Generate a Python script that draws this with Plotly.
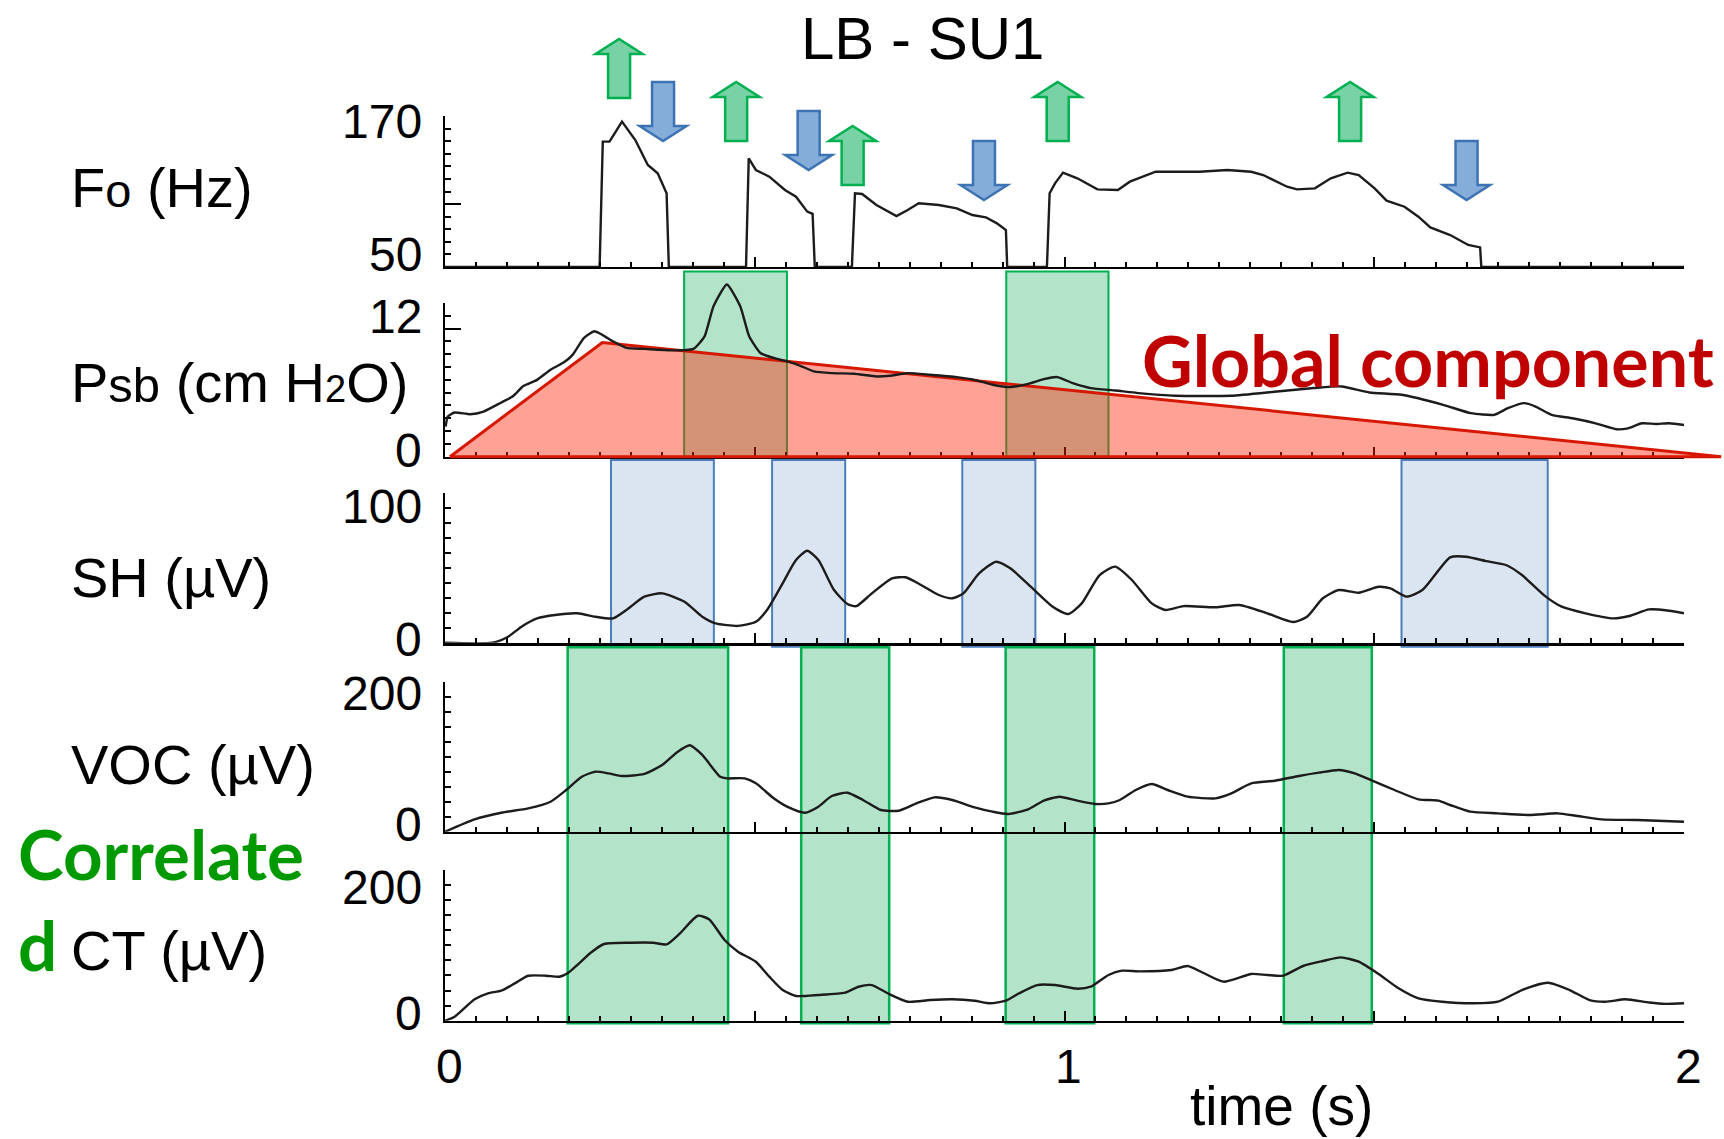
import plotly.graph_objects as go

# ---------------- data ----------------
f0_time = [0.0, 0.2496, 0.2547, 0.2655, 0.2857, 0.3072, 0.3274, 0.3433, 0.3577, 0.3613,
           0.4859, 0.4903, 0.5018, 0.5235, 0.5487, 0.5666, 0.5847, 0.5934, 0.5969,
           0.6568, 0.6618, 0.6733, 0.6964, 0.7288, 0.7469, 0.7648, 0.7972, 0.8261, 0.8513,
           0.873, 0.8909, 0.9054, 0.9075,
           0.9716, 0.976, 0.9847, 0.9976, 1.0207, 1.0531, 1.0862, 1.1055, 1.1472, 1.2179,
           1.2629, 1.3014, 1.3207, 1.3593, 1.3753, 1.4042, 1.4299, 1.457, 1.4749, 1.5006,
           1.5199, 1.5488, 1.5713, 1.5905, 1.6226, 1.6517, 1.6709, 1.6728, 2.0]
f0_hz = [50, 50, 149.6, 149.6, 165.5, 150.9, 131.1, 124.5, 108.6, 50,
         50, 136.4, 127.1, 121.8, 111.2, 105.9, 94.0, 92.2, 50,
         50, 108.6, 108.0, 99.3, 90.5, 95.3, 100.6, 99.3, 96.6, 91.3,
         89.5, 84.7, 79.4, 50,
         50, 108.6, 116.5, 125.0, 120.5, 111.7, 111.2, 117.8, 125.7, 125.7,
         127.1, 125.7, 123.1, 113.8, 111.7, 112.5, 120.5, 125.0, 123.1, 112.5,
         102.7, 97.9, 90.0, 81.5, 75.4, 67.5, 65.6, 50, 50]

psb_time = [0.001, 0.0046, 0.0154, 0.0406, 0.0623, 0.091, 0.109, 0.127, 0.1487, 0.1703,
            0.192, 0.2063, 0.2244, 0.241, 0.2533, 0.2712, 0.2928, 0.3217, 0.365, 0.401,
            0.419, 0.4334, 0.455, 0.4766, 0.491, 0.509, 0.5306, 0.5522, 0.5738, 0.5955,
            0.6244, 0.6604, 0.6964, 0.718, 0.7469, 0.7829, 0.8261, 0.8549, 0.8838, 0.9125,
            0.9414, 0.9666, 0.9882, 1.0134, 1.0423, 1.0822, 1.1195, 1.179, 1.2686, 1.343,
            1.4027, 1.4475, 1.4922, 1.5443, 1.6113, 1.656, 1.6933, 1.7158, 1.7417, 1.7604,
            1.7865, 1.82, 1.8573, 1.8909, 1.9095, 1.9319, 1.9542, 1.9766, 2.0]
psb_cmh2o = [2.82, 3.76, 4.14, 3.98, 4.23, 5.08, 5.64, 6.64, 7.2, 8.15,
             8.84, 9.56, 11.13, 11.75, 11.44, 10.81, 10.19, 10.1, 9.96, 10.1,
             11.28, 14.1, 16.14, 14.1, 11.28, 9.72, 9.25, 8.93, 8.52, 7.99,
             7.83, 7.77, 7.52, 7.58, 7.83, 7.68, 7.46, 7.2, 6.74, 6.52,
             6.83, 7.27, 7.46, 6.89, 6.43, 6.2, 5.96, 5.71, 5.71, 6.11,
             6.43, 6.58, 6.02, 5.8, 4.86, 4.08, 3.92, 4.55, 5.02, 4.7,
             3.92, 3.6, 3.13, 2.57, 2.66, 3.13, 3.07, 3.13, 2.97]

sh_time = [0.0, 0.0767, 0.1019, 0.1235, 0.1487, 0.1776, 0.2136, 0.2424, 0.2712, 0.2928,
           0.3217, 0.3505, 0.3866, 0.4153, 0.437, 0.473, 0.5018, 0.5198, 0.5451, 0.5666,
           0.5847, 0.6027, 0.628, 0.6496, 0.664, 0.6891, 0.7216, 0.7432, 0.7684, 0.7972,
           0.8189, 0.8368, 0.8621, 0.8895, 0.9125, 0.9485, 0.981, 1.0063, 1.0278, 1.0567,
           1.0819, 1.1087, 1.1408, 1.1633, 1.1923, 1.2436, 1.2822, 1.3272, 1.3689, 1.3914,
           1.4171, 1.4428, 1.4749, 1.507, 1.5262, 1.552, 1.5777, 1.6226, 1.6484, 1.6806,
           1.7127, 1.7384, 1.7769, 1.8026, 1.8412, 1.886, 1.9117, 1.9438, 1.976, 2.0]
sh_uv = [0, 0, 4, 10.7, 16.2, 18.5, 19.6, 17.3, 16.2, 21.8,
         30.7, 32.9, 27.3, 17.3, 12.9, 11.2, 14, 21.8, 39.6, 55.1,
         61.3, 55.1, 35.1, 25.8, 24.4, 32.9, 42.9, 43.6, 38.5, 31.8,
         29.6, 32.9, 46.2, 54, 49.6, 36.2, 24, 19.1, 26.2, 45.1,
         50.7, 41.8, 26.2, 21.8, 24.4, 23.6, 25.1, 19.6, 13.8, 17.3,
         29.6, 35.1, 33.3, 37.3, 36.2, 30.7, 35.1, 56.9, 57.3, 54.4,
         51.8, 45.1, 30.7, 24, 19.6, 16.2, 17.8, 22.2, 21.3, 19.6]

voc_time = [0.0, 0.0478, 0.091, 0.1343, 0.1703, 0.1956, 0.2208, 0.2424, 0.2641, 0.2857,
            0.3217, 0.3505, 0.3758, 0.3952, 0.4153, 0.4442, 0.455, 0.4838, 0.5018, 0.5306,
            0.5522, 0.5811, 0.6027, 0.6244, 0.6496, 0.6747, 0.7036, 0.7324, 0.7612, 0.79,
            0.8189, 0.8549, 0.8838, 0.909, 0.9414, 0.9666, 0.9918, 1.0207, 1.0494, 1.071,
            1.0894, 1.1151, 1.1408, 1.1666, 1.1987, 1.2436, 1.2693, 1.3014, 1.34, 1.3785,
            1.4106, 1.4428, 1.4685, 1.5006, 1.5327, 1.5713, 1.6034, 1.6226, 1.6547, 1.6998,
            1.7511, 1.7962, 1.8283, 1.8668, 1.9246, 2.0]
voc_uv = [0, 16.5, 25.3, 31.1, 40, 55.6, 73.3, 80, 77.8, 74.3,
          77, 88.9, 106.7, 115.2, 102.3, 73.3, 71.1, 71.1, 64.5, 44.5,
          33.4, 25.3, 33.4, 47.6, 52, 42.3, 28.9, 28, 37.8, 45.8,
          42.3, 32.5, 26.7, 23.6, 29.8, 41.4, 46.7, 41.4, 37, 37.8,
          42.3, 55.6, 63.6, 55.6, 46.7, 44.5, 51.1, 64.5, 68, 74.3,
          78.7, 82.3, 77.8, 66.7, 55.6, 43.2, 41.4, 35.6, 26.7, 24.5,
          22.3, 24.5, 20.9, 16.5, 15.6, 13.3]

ct_time = [0.0, 0.0155, 0.0478, 0.0694, 0.091, 0.1127, 0.1343, 0.1632, 0.1848, 0.1992,
           0.2136, 0.2352, 0.2568, 0.3001, 0.3361, 0.3577, 0.3793, 0.408, 0.4262, 0.4513,
           0.473, 0.5018, 0.5235, 0.5451, 0.5666, 0.6027, 0.646, 0.6675, 0.6891, 0.7144,
           0.7469, 0.7829, 0.8189, 0.8549, 0.8801, 0.9054, 0.9269, 0.9558, 0.9847, 1.0207,
           1.0423, 1.071, 1.0926, 1.1216, 1.1729, 1.1987, 1.2244, 1.2565, 1.3014, 1.3272,
           1.3529, 1.385, 1.4171, 1.446, 1.4749, 1.507, 1.5392, 1.5713, 1.6098, 1.6612,
           1.6998, 1.7384, 1.7801, 1.8154, 1.8475, 1.8733, 1.9054, 1.9438, 1.9696, 2.0]
ct_uv = [0, 5.3, 28.4, 36.4, 39.8, 49.6, 59.7, 59.7, 58.4, 63.7,
         73.9, 90.2, 101.8, 103.5, 103.5, 101.3, 116, 139.3, 134.5, 107.1,
         91.6, 78.3, 58.4, 40.7, 32.8, 34.1, 37.2, 45.1, 47.3, 36.4,
         25.2, 27.4, 28.4, 26.5, 23.1, 26.5, 36.4, 47.3, 47.3, 42.5,
         45.1, 60.7, 66.4, 65.5, 67.3, 72.6, 63.3, 51.8, 62.0, 60.7,
         59.7, 72.6, 79.2, 84.1, 78.3, 62.0, 43.0, 29.7, 25.2, 23.1,
         25.2, 40.7, 50.4, 40.7, 27.4, 25.2, 28.4, 24.1, 22.3, 23.1]

# global (slow) component of subglottal pressure
global_time = [0.008, 0.254, 2.06]
global_cmh2o = [0.0, 10.7, 0.0]

# highlighted intervals (s)
psb_box_start = [0.386, 0.906]
psb_box_end = [0.552, 1.071]
sh_box_start = [0.268, 0.528, 0.835, 1.544]
sh_box_end = [0.434, 0.646, 0.953, 1.780]
emg_box_start = [0.198, 0.575, 0.905, 1.354]
emg_box_end = [0.457, 0.717, 1.048, 1.496]

# F0 rise / fall markers (s)
rise_time = [0.281, 0.470, 0.658, 0.989, 1.461]
fall_time = [0.352, 0.587, 0.870, 1.649]

# axis ranges / ticks
y_ranges = {'y': [50, 170], 'y2': [0, 14.4], 'y3': [0, 100], 'y4': [0, 200], 'y5': [0, 200]}
y_major = {'y': [50, 100, 170], 'y2': [0, 12], 'y3': [0, 100], 'y4': [0, 200], 'y5': [0, 200]}
y_minor = {'y': 10, 'y2': 1.2, 'y3': 10, 'y4': 20, 'y5': 20}
y_tick_text = {'y': ['170', '50'], 'y2': ['12', '0'], 'y3': ['100', '0'], 'y4': ['200', '0'], 'y5': ['200', '0']}
y_tick_at = {'y': [170, 50], 'y2': [12, 0], 'y3': [100, 0], 'y4': [200, 0], 'y5': [200, 0]}
x_tick_vals = [0, 1, 2]
x_tick_text = ['0', '1', '2']
panel_labels = ["F<span style='font-size:47px'>o</span> (Hz)",
                "P<span style='font-size:49px'>sb</span> (cm H<span style='font-size:38px'>2</span>O)",
                "SH (\u00b5V)", "VOC (\u00b5V)", "CT (\u00b5V)"]

# ---------------- layout geometry / styles ----------------
W, H = 1724, 1139
X0, X1 = 445, 1684


def yp(p):
    return 1 - p / H


panel_px = {'y': (116, 267), 'y2': (303, 456.7), 'y3': (492.7, 642.7),
            'y4': (681.7, 831.7), 'y5': (870, 1020.7)}
label_center_px = [188, 382, 577, 764, 950]
tick_label_shift = {'y': [5, -13], 'y2': [-12, -6], 'y3': [14, -3], 'y4': [12, -7], 'y5': [17, -7]}
rise_base_px = [98, 141, 185, 141, 141]
fall_top_px = [82, 111, 141, 141]

LINE = '#1c1c1c'
LW = 2.4
FONT = 'Liberation Sans, Arial, Helvetica, sans-serif'
BOLD = 'Lato, Calibri, sans-serif'
GREEN_LINE = '#00B050'
GREEN_FILL = 'rgb(179,227,200)'
BLUE_LINE = '#4A7EBB'
BLUE_FILL = 'rgb(219,229,241)'
ARROW_GREEN = 'rgb(121,210,165)'
ARROW_BLUE = 'rgb(133,173,218)'
ARROW_BLUE_LINE = '#3E73B3'
RED_LINE = 'rgb(214,24,0)'
RED_FILL = 'rgba(255,40,10,0.43)'

keys = ['y', 'y2', 'y3', 'y4', 'y5']

fig = go.Figure()

layout = dict(width=W, height=H, margin=dict(l=0, r=0, t=0, b=0),
              paper_bgcolor='white', plot_bgcolor='rgba(0,0,0,0)', showlegend=False)

for i, yk in enumerate(keys):
    n = '' if i == 0 else str(i + 1)
    top, bot = panel_px[yk]
    layout['xaxis' + n] = dict(
        domain=[X0 / W, X1 / W], anchor='y' + n, range=[0, 2],
        showline=True, linecolor='black', linewidth=3 if yk == 'y3' else 2,
        ticks='inside', ticklen=10, tickwidth=2, tickcolor='black',
        tickvals=[0, 0.5, 1, 1.5, 2], showticklabels=False,
        showgrid=False, zeroline=False, fixedrange=True,
        minor=dict(ticks='inside', dtick=0.05, tick0=0, ticklen=5, tickwidth=1.5,
                   tickcolor='black', showgrid=False))
    layout['yaxis' + n] = dict(
        domain=[yp(bot), yp(top)], anchor='x' + n, range=y_ranges[yk],
        showline=True, linecolor='black', linewidth=2,
        ticks='inside', ticklen=16, tickwidth=2, tickcolor='black',
        tickvals=y_major[yk], showticklabels=False,
        showgrid=False, zeroline=False, fixedrange=True,
        minor=dict(ticks='inside', dtick=y_minor[yk], tick0=y_ranges[yk][0], ticklen=6,
                   tickwidth=1.5, tickcolor='black', showgrid=False))

# wider overlay subplot for the Psb trace and the global component (not clipped at x=2 / top)
psb_top, psb_bot = panel_px['y2']
unit = (psb_bot - psb_top) / (y_ranges['y2'][1] - y_ranges['y2'][0])
y6_top, y6_bot = 268, 463
layout['xaxis6'] = dict(domain=[X0 / W, 1.0], anchor='y6',
                        range=[0, 2 * (W - X0) / (X1 - X0)], visible=False, fixedrange=True)
layout['yaxis6'] = dict(domain=[yp(y6_bot), yp(y6_top)], anchor='x6',
                        range=[-(y6_bot - psb_bot) / unit, y_ranges['y2'][1] + (psb_top - y6_top) / unit],
                        visible=False, fixedrange=True)

# ---- traces ----
fig.add_trace(go.Scatter(x=f0_time, y=f0_hz, xaxis='x', yaxis='y', mode='lines',
                         line=dict(color=LINE, width=LW), hoverinfo='skip'))
fig.add_trace(go.Scatter(x=global_time + [global_time[0]], y=global_cmh2o + [global_cmh2o[0]],
                         xaxis='x6', yaxis='y6', mode='lines', fill='toself', fillcolor=RED_FILL,
                         line=dict(color=RED_LINE, width=3), hoverinfo='skip'))
fig.add_trace(go.Scatter(x=psb_time, y=psb_cmh2o, xaxis='x6', yaxis='y6', mode='lines',
                         line=dict(color=LINE, width=LW, shape='spline', smoothing=0.5), hoverinfo='skip'))
for (t, v, ax) in [(sh_time, sh_uv, '3'), (voc_time, voc_uv, '4'), (ct_time, ct_uv, '5')]:
    fig.add_trace(go.Scatter(x=t, y=v, xaxis='x' + ax, yaxis='y' + ax, mode='lines',
                             line=dict(color=LINE, width=LW, shape='spline', smoothing=0.6),
                             hoverinfo='skip'))

# ---- shapes ----
shapes = []
for a, b in zip(psb_box_start, psb_box_end):
    shapes.append(dict(type='rect', xref='x2', yref='paper', x0=a, x1=b, y0=yp(456.7), y1=yp(271.6),
                       fillcolor=GREEN_FILL, line=dict(color=GREEN_LINE, width=2), layer='below'))
for a, b in zip(sh_box_start, sh_box_end):
    shapes.append(dict(type='rect', xref='x3', yref='paper', x0=a, x1=b, y0=yp(646.7), y1=yp(460),
                       fillcolor=BLUE_FILL, line=dict(color=BLUE_LINE, width=2), layer='below'))
for a, b in zip(emg_box_start, emg_box_end):
    shapes.append(dict(type='rect', xref='x4', yref='paper', x0=a, x1=b, y0=yp(1023.3), y1=yp(647.3),
                       fillcolor=GREEN_FILL, line=dict(color=GREEN_LINE, width=2.5), layer='below'))

UP_PATH = 'M -11 0 L 11 0 L 11 44 L 23.5 44 L 0 59 L -23.5 44 L -11 44 Z'
DOWN_PATH = 'M -11 0 L 11 0 L 11 -44 L 23.5 -44 L 0 -59 L -23.5 -44 L -11 -44 Z'
for t, b in zip(rise_time, rise_base_px):
    shapes.append(dict(type='path', xref='x', yref='paper', xsizemode='pixel', ysizemode='pixel',
                       xanchor=t, yanchor=yp(b), path=UP_PATH, fillcolor=ARROW_GREEN,
                       line=dict(color=GREEN_LINE, width=2.5), layer='above'))
for t, b in zip(fall_time, fall_top_px):
    shapes.append(dict(type='path', xref='x', yref='paper', xsizemode='pixel', ysizemode='pixel',
                       xanchor=t, yanchor=yp(b), path=DOWN_PATH, fillcolor=ARROW_BLUE,
                       line=dict(color=ARROW_BLUE_LINE, width=2.5), layer='above'))
layout['shapes'] = shapes

# ---- text ----
ann = []
ann.append(dict(text='LB - SU1', xref='paper', yref='paper', x=922 / W, y=yp(39),
                xanchor='center', yanchor='middle', showarrow=False,
                font=dict(family=FONT, size=60, color='black')))
for i, yk in enumerate(keys):
    ann.append(dict(text=panel_labels[i], xref='paper', yref='paper', x=69 / W, y=yp(label_center_px[i]),
                    xanchor='left', yanchor='middle', showarrow=False,
                    font=dict(family=FONT, size=56, color='black')))
    for val, txt, sh in zip(y_tick_at[yk], y_tick_text[yk], tick_label_shift[yk]):
        ann.append(dict(text=txt, xref='paper', yref=yk, x=424 / W, y=val, yshift=-sh,
                        xanchor='right', yanchor='middle', showarrow=False,
                        font=dict(family=FONT, size=48, color='black')))
for v, txt in zip(x_tick_vals, x_tick_text):
    ann.append(dict(text=txt, xref='x5', yref='paper', x=v, y=yp(1066), xshift=4,
                    xanchor='center', yanchor='middle', showarrow=False,
                    font=dict(family=FONT, size=48, color='black')))
ann.append(dict(text='time (s)', xref='paper', yref='paper', x=1281 / W, y=yp(1106),
                xanchor='center', yanchor='middle', showarrow=False,
                font=dict(family=FONT, size=55, color='black')))
ann.append(dict(text='<b>Global component</b>', xref='paper', yref='paper', x=1428 / W, y=yp(360),
                xanchor='center', yanchor='middle', showarrow=False,
                font=dict(family=BOLD, size=70, color='#C00000')))
ann.append(dict(text='<b>Correlate</b>', xref='paper', yref='paper', x=16 / W, y=yp(853),
                xanchor='left', yanchor='middle', showarrow=False,
                font=dict(family=BOLD, size=69, color='#009900')))
ann.append(dict(text='<b>d</b>', xref='paper', yref='paper', x=16 / W, y=yp(944),
                xanchor='left', yanchor='middle', showarrow=False,
                font=dict(family=BOLD, size=69, color='#009900')))
layout['annotations'] = ann

fig.update_layout(**layout)
fig.write_html('out.html', config={'displayModeBar': False},
               post_script="document.body.style.margin='0';document.body.style.overflow='hidden';")
